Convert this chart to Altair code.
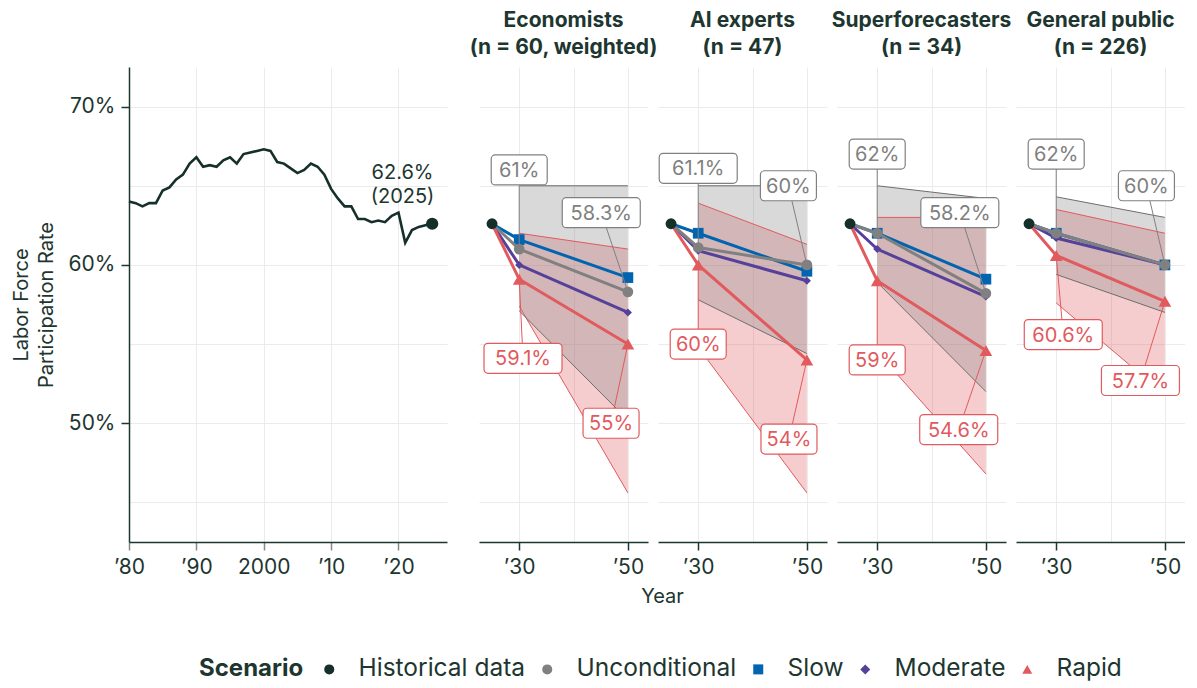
import altair as alt
import pandas as pd

# ---------------- data ----------------
hist_years = list(range(1980, 2026))
hist_values = [64.0, 63.9, 63.7, 63.9, 63.9, 64.7, 64.9, 65.4, 65.7, 66.4,
               66.8, 66.2, 66.3, 66.2, 66.6, 66.8, 66.4, 67.0, 67.1, 67.2,
               67.3, 67.2, 66.5, 66.4, 66.1, 65.8, 66.0, 66.4, 66.2, 65.7,
               64.8, 64.2, 63.7, 63.7, 62.9, 62.9, 62.7, 62.8, 62.7, 63.1,
               63.3, 61.4, 62.2, 62.4, 62.5, 62.6]
hist_note_pos = [2020.6, 65.8]

groups = ["Economists", "AI experts", "Superforecasters", "General public"]
group_sizes = ["(n = 60, weighted)", "(n = 47)", "(n = 34)", "(n = 226)"]

start_year = 2025
start_value = 62.6
y30, y50 = 2030, 2050

uncond_2030 = [61.0, 61.1, 62.0, 62.0]
uncond_2050 = [58.3, 60.0, 58.2, 60.0]
slow_2030 = [61.6, 62.0, 62.0, 62.0]
slow_2050 = [59.2, 59.6, 59.1, 60.0]
moderate_2030 = [60.0, 60.9, 61.0, 61.7]
moderate_2050 = [57.0, 59.0, 58.0, 60.0]
rapid_2030 = [59.1, 60.0, 59.0, 60.6]
rapid_2050 = [55.0, 54.0, 54.6, 57.7]

# uncertainty bands (2030 / 2050)
uncond_lo_2030 = [57.1, 57.8, 58.9, 59.4]
uncond_lo_2050 = [50.2, 54.4, 52.0, 57.0]
uncond_hi_2030 = [65.0, 65.0, 65.0, 64.3]
uncond_hi_2050 = [65.0, 65.0, 64.2, 63.0]
rapid_lo_2030 = [57.4, 54.8, 54.5, 57.6]
rapid_lo_2050 = [45.6, 45.6, 46.8, 51.8]
rapid_hi_2030 = [62.0, 63.9, 63.0, 63.5]
rapid_hi_2050 = [61.0, 61.3, 63.0, 62.0]

# callout labels: unconditional 2030, unconditional 2050, rapid 2030, rapid 2050
label_text = [["61%", "58.3%", "59.1%", "55%"],
              ["61.1%", "60%", "60%", "54%"],
              ["62%", "58.2%", "59%", "54.6%"],
              ["62%", "60%", "60.6%", "57.7%"]]
label_year = [[2030.0, 2045.1, 2030.7, 2046.9],
              [2030.0, 2046.6, 2030.0, 2046.7],
              [2030.0, 2045.2, 2030.0, 2045.0],
              [2030.0, 2046.6, 2031.3, 2045.5]]
label_value = [[66.0, 63.3, 54.1, 50.0],
               [66.1, 65.0, 55.0, 49.0],
               [67.0, 63.3, 54.0, 49.6],
               [67.0, 65.0, 55.6, 52.7]]

scen_domain = ["Historical data", "Unconditional", "Slow", "Moderate", "Rapid"]

# ---------------- style ----------------
FONT = "Inter"
TEXT = "#1d3630"
HIST = "#15302a"
GRAY = "#808080"
BLUE = "#0064b0"
PURPLE = "#55409a"
RED = "#e15a5e"
GRID = "#ebebeb"

scen_colors = [HIST, GRAY, BLUE, PURPLE, RED]
scen_shapes = ["circle", "circle", "square", "diamond", "triangle-up"]
scen_sizes = {"Unconditional": 115, "Slow": 115, "Moderate": 65, "Rapid": 160}

COLOR_SCALE = alt.Scale(domain=scen_domain, range=scen_colors)
SHAPE_SCALE = alt.Scale(domain=scen_domain, range=scen_shapes)
LEGEND = alt.Legend(title="Scenario")

Y_SCALE = alt.Scale(domain=[42.5, 72.5], nice=False, zero=False)
H = 475
LEFT_W = 318
PANEL_W = 169

# ---------------- left panel ----------------
hist_df = pd.DataFrame({"year": hist_years, "value": hist_values})
x_left = alt.X("year:Q",
               scale=alt.Scale(domain=[1980, 2027.2], nice=False, zero=False),
               axis=alt.Axis(values=[1980, 1990, 2000, 2010, 2020], title="Year",
                             titleX=533, titleY=54, titleBaseline="middle",
                             titleFontSize=20, titleFontWeight="normal", labelFlush=False,
                             labelExpr="datum.value == 2000 ? '2000' : '\u2019' + slice(toString(datum.value), 2)"))
y_left = alt.Y("value:Q", scale=Y_SCALE,
               axis=alt.Axis(values=[45, 50, 55, 60, 65, 70],
                             labelExpr="datum.value % 10 == 0 ? datum.value + '%' : ''",
                             tickColor={"condition": {"test": "datum.value % 10 != 0", "value": "transparent"},
                                        "value": TEXT},
                             title=["Labor Force", "Participation Rate"],
                             titleFontSize=20, titleFontWeight="normal", titleLineHeight=25,
                             titlePadding=12))

hist_line = alt.Chart(hist_df).mark_line(color=HIST, strokeWidth=2.6).encode(x=x_left, y=y_left)
end_df = pd.DataFrame({"year": [hist_years[-1]], "value": [hist_values[-1]],
                       "Scenario": ["Historical data"]})
hist_dot = alt.Chart(end_df).mark_point(filled=True, opacity=1, size=150).encode(
    x=x_left, y=y_left,
    color=alt.Color("Scenario:N", scale=COLOR_SCALE, legend=LEGEND),
    shape=alt.Shape("Scenario:N", scale=SHAPE_SCALE, legend=LEGEND))
note_df = pd.DataFrame({"year": [hist_note_pos[0]], "value": [hist_note_pos[1]],
                        "text": [f"{hist_values[-1]}%\n({hist_years[-1]})"]})
hist_note = alt.Chart(note_df).mark_text(lineBreak="\n", fontSize=20, color=TEXT, font=FONT,
                                         lineHeight=24, baseline="middle").encode(
    x=x_left, y=y_left, text="text:N")

left = alt.layer(hist_line, hist_dot, hist_note).properties(width=LEFT_W, height=H)

# ---------------- forecast panels ----------------
X_F_AXIS = alt.Axis(values=[2030, 2040, 2050], title=None, labelFlush=False,
                    labelExpr="datum.value == 2040 ? '' : '\u2019' + slice(toString(datum.value), 2)",
                    tickColor={"condition": {"test": "datum.value == 2040", "value": "transparent"},
                               "value": TEXT})
Y_F_AXIS = alt.Axis(values=[45, 50, 55, 60, 65, 70], labels=False, ticks=False, domain=False, title=None)
X_F_SCALE = alt.Scale(domain=[2022.6, 2053.7], nice=False, zero=False)


def fx(field):
    return alt.X(field, scale=X_F_SCALE, axis=X_F_AXIS)


def fy(field):
    return alt.Y(field, scale=Y_SCALE, axis=Y_F_AXIS)


def panel(i):
    values = {
        "Unconditional": (uncond_2030[i], uncond_2050[i]),
        "Slow": (slow_2030[i], slow_2050[i]),
        "Moderate": (moderate_2030[i], moderate_2050[i]),
        "Rapid": (rapid_2030[i], rapid_2050[i]),
    }
    bands = {
        "Unconditional": ((uncond_lo_2030[i], uncond_hi_2030[i]), (uncond_lo_2050[i], uncond_hi_2050[i])),
        "Rapid": ((rapid_lo_2030[i], rapid_hi_2030[i]), (rapid_lo_2050[i], rapid_hi_2050[i])),
    }
    layers = []
    # bands
    for sc, col in [("Rapid", RED), ("Unconditional", GRAY)]:
        (lo30, hi30), (lo50, hi50) = bands[sc]
        bdf = pd.DataFrame({"year": [y30, y50], "lo": [lo30, lo50], "hi": [hi30, hi50]})
        layers.append(alt.Chart(bdf).mark_area(color=col, opacity=0.3).encode(
            x=fx("year:Q"), y=fy("lo:Q"), y2="hi:Q"))
    for sc, col in [("Rapid", RED), ("Unconditional", "#6e6e6e")]:
        (lo30, hi30), (lo50, hi50) = bands[sc]
        edf = pd.DataFrame({"year": [y30, y50, y30, y50], "value": [lo30, lo50, hi30, hi50],
                            "edge": ["lo", "lo", "hi", "hi"]})
        layers.append(alt.Chart(edf).mark_line(color=col, strokeWidth=1).encode(
            x=fx("year:Q"), y=fy("value:Q"), detail="edge:N"))
    # scenario lines + markers
    for sc in ["Slow", "Moderate", "Rapid", "Unconditional"]:
        v30, v50 = values[sc]
        col = scen_colors[scen_domain.index(sc)]
        ldf = pd.DataFrame({"year": [start_year, y30, y50], "value": [start_value, v30, v50]})
        layers.append(alt.Chart(ldf).mark_line(color=col, strokeWidth=3).encode(
            x=fx("year:Q"), y=fy("value:Q")))
        pdf = pd.DataFrame({"year": [y30, y50], "value": [v30, v50], "Scenario": [sc, sc]})
        layers.append(alt.Chart(pdf).mark_point(filled=True, opacity=1, size=scen_sizes[sc]).encode(
            x=fx("year:Q"), y=fy("value:Q"),
            color=alt.Color("Scenario:N", scale=COLOR_SCALE, legend=LEGEND),
            shape=alt.Shape("Scenario:N", scale=SHAPE_SCALE, legend=LEGEND)))
    sdf = pd.DataFrame({"year": [start_year], "value": [start_value], "Scenario": ["Historical data"]})
    layers.append(alt.Chart(sdf).mark_point(filled=True, opacity=1, size=120).encode(
        x=fx("year:Q"), y=fy("value:Q"),
        color=alt.Color("Scenario:N", scale=COLOR_SCALE, legend=LEGEND),
        shape=alt.Shape("Scenario:N", scale=SHAPE_SCALE, legend=LEGEND)))
    # callouts
    pt_year = [y30, y50, y30, y50]
    pt_value = [uncond_2030[i], uncond_2050[i], rapid_2030[i], rapid_2050[i]]
    kinds = ["gray", "gray", "red", "red"]
    lab = pd.DataFrame({"text": label_text[i], "lx": label_year[i], "ly": label_value[i],
                        "px": pt_year, "py": pt_value, "kind": kinds})
    lab["long"] = lab["text"].str.len() > 3
    for kind, col in [("gray", GRAY), ("red", RED)]:
        sub = lab[lab["kind"] == kind]
        layers.append(alt.Chart(sub).mark_rule(color=col, strokeWidth=1).encode(
            x=fx("px:Q"), x2="lx:Q", y=fy("py:Q"), y2="ly:Q"))
        for is_long, half in [(False, 28), (True, 39)]:
            s2 = sub[sub["long"] == is_long]
            if len(s2) == 0:
                continue
            layers.append(alt.Chart(s2).mark_rect(
                fill="white", stroke=col, strokeWidth=1.2, cornerRadius=4,
                xOffset=-half, x2Offset=half, yOffset=-15, y2Offset=15).encode(
                x=fx("lx:Q"), x2="lx:Q", y=fy("ly:Q"), y2="ly:Q"))
        layers.append(alt.Chart(sub).mark_text(fontSize=20, color=col, font=FONT,
                                               baseline="middle", dy=1).encode(
            x=fx("lx:Q"), y=fy("ly:Q"), text="text:N"))
    title = alt.TitleParams([groups[i], group_sizes[i]], fontSize=21, fontWeight="bold",
                            lineHeight=27, offset=9, color=TEXT, font=FONT, anchor="middle")
    return alt.layer(*layers).properties(width=PANEL_W, height=H, title=title)


panels = alt.hconcat(*[panel(i) for i in range(4)], spacing=10, bounds="flush")

chart = alt.hconcat(left, panels, spacing=32, bounds="flush").properties(
    padding={"left": 3, "top": 2, "right": 0, "bottom": 0},
).configure(font=FONT).configure_view(stroke=None).configure_axis(
    labelFont=FONT, titleFont=FONT, labelFontSize=21, labelColor=TEXT, titleColor=TEXT,
    domainColor=TEXT, domainWidth=1.5, tickSize=8, tickWidth=1.5, labelPadding=6,
    gridColor=GRID, gridWidth=1, labelFlush=False
).configure_legend(
    orient="none", legendX=70, legendY=590, direction="horizontal", titleOrient="left",
    titleFontSize=24, titleFontWeight="bold", titleColor=TEXT, labelFontSize=24.5,
    labelColor=TEXT, symbolSize=100, labelOffset=17, columnPadding=9, titlePadding=13,
    padding=0, labelFont=FONT, titleFont=FONT, labelLimit=400
)

chart.save("out.html", embed_options={"renderer": "svg", "actions": False})
